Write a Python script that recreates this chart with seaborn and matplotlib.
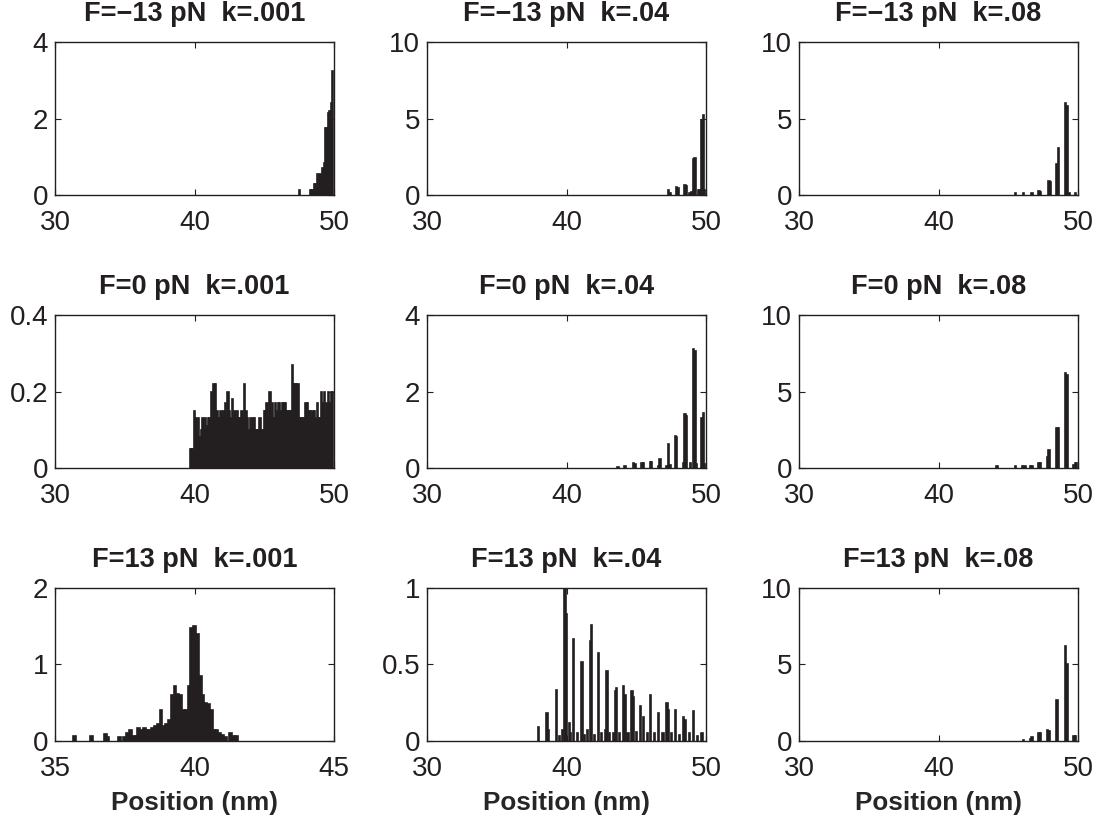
import numpy as np
import pandas as pd
import matplotlib
matplotlib.use('Agg')
import matplotlib.pyplot as plt
import seaborn as sns

INK = '#231f20'

# Panel titles, row by row
titles = [
    'F=\u221213 pN  k=.001', 'F=\u221213 pN  k=.04', 'F=\u221213 pN  k=.08',
    'F=0 pN  k=.001', 'F=0 pN  k=.04', 'F=0 pN  k=.08',
    'F=13 pN  k=.001', 'F=13 pN  k=.04', 'F=13 pN  k=.08',
]

x_ticks = [[30, 40, 50]] * 6 + [[35, 40, 45], [30, 40, 50], [30, 40, 50]]
y_ticks = [[0, 2, 4], [0, 5, 10], [0, 5, 10],
           [0, 0.2, 0.4], [0, 2, 4], [0, 5, 10],
           [0, 1, 2], [0, 0.5, 1], [0, 5, 10]]
y_tick_labels = [['0', '2', '4'], ['0', '5', '10'], ['0', '5', '10'],
                 ['0', '0.2', '0.4'], ['0', '2', '4'], ['0', '5', '10'],
                 ['0', '1', '2'], ['0', '0.5', '1'], ['0', '5', '10']]

# Histogram values (bin centre in nm, height)
pos_m13_001 = [47.5, 48.3, 48.4, 48.5, 48.6, 48.7, 48.8, 48.9, 49.0, 49.1,
               49.2, 49.3, 49.4, 49.5, 49.6, 49.7, 49.8, 49.9]
cnt_m13_001 = [0.12, 0.12, 0.12, 0.12, 0.3, 0.3, 0.55, 0.4, 0.55, 0.45,
               0.7, 0.85, 1.75, 1.75, 2.15, 2.2, 2.4, 3.25]

pos_m13_04 = [47.3, 47.4, 47.9, 48.0, 48.5, 48.6, 48.8, 49.0, 49.1, 49.2,
              49.5, 49.6, 49.7, 49.8, 49.9]
cnt_m13_04 = [0.33, 0.1, 0.5, 0.45, 0.65, 0.6, 0.1, 0.2, 2.35, 2.45,
              0.3, 0.3, 4.9, 5.2, 0.3]

pos_m13_08 = [45.5, 46.1, 46.7, 47.2, 47.3, 47.9, 48.0, 48.5, 48.6, 49.1,
              49.2, 49.4, 49.8]
cnt_m13_08 = [0.1, 0.12, 0.12, 0.25, 0.2, 0.9, 0.85, 2.0, 3.05, 6.0,
              5.8, 0.15, 0.15]

pos_0_001 = [39.7, 39.8, 39.9,
             40.0, 40.1, 40.2, 40.3, 40.4, 40.5, 40.6, 40.7, 40.8, 40.9,
             41.0, 41.1, 41.2, 41.3, 41.4, 41.5, 41.6, 41.7, 41.8, 41.9,
             42.0, 42.1, 42.2, 42.3, 42.4, 42.5, 42.6, 42.7, 42.8, 42.9,
             43.0, 43.1, 43.2, 43.3, 43.4, 43.5, 43.6, 43.7, 43.8, 43.9,
             44.0, 44.1, 44.2, 44.3, 44.4, 44.5, 44.6, 44.7, 44.8, 44.9,
             45.0, 45.1, 45.2, 45.3, 45.4, 45.5, 45.6, 45.7, 45.8, 45.9,
             46.0, 46.1, 46.2, 46.3, 46.4, 46.5, 46.6, 46.7, 46.8, 46.9,
             47.0, 47.1, 47.2, 47.3, 47.4, 47.5, 47.6, 47.7, 47.8, 47.9,
             48.0, 48.1, 48.2, 48.3, 48.4, 48.5, 48.6, 48.7, 48.8, 48.9,
             49.0, 49.1, 49.2, 49.3, 49.4, 49.5, 49.6, 49.7, 49.8, 49.9]
cnt_0_001 = [0.05, 0.05, 0.05,
             0.15, 0.13, 0.08, 0.13, 0.08, 0.10, 0.13, 0.10, 0.13, 0.11,
             0.13, 0.13, 0.20, 0.15, 0.22, 0.22, 0.15, 0.13, 0.13, 0.15,
             0.13, 0.15, 0.17, 0.13, 0.20, 0.15, 0.13, 0.18, 0.13, 0.15,
             0.13, 0.15, 0.13, 0.13, 0.15, 0.13, 0.22, 0.15, 0.13, 0.10,
             0.13, 0.10, 0.13, 0.13, 0.10, 0.10, 0.10, 0.13, 0.10, 0.10,
             0.15, 0.15, 0.17, 0.13, 0.20, 0.15, 0.17, 0.13, 0.17, 0.15,
             0.17, 0.17, 0.15, 0.17, 0.17, 0.17, 0.15, 0.15, 0.15, 0.15,
             0.27, 0.22, 0.22, 0.22, 0.22, 0.13, 0.13, 0.13, 0.13, 0.13,
             0.17, 0.17, 0.15, 0.15, 0.13, 0.15, 0.15, 0.13, 0.17, 0.13,
             0.13, 0.20, 0.17, 0.20, 0.13, 0.17, 0.20, 0.17, 0.20, 0.20]

pos_0_04 = [43.7, 44.2, 44.8, 44.9, 45.4, 45.5, 46.0, 46.1, 46.6, 46.7,
            47.2, 47.3, 47.4, 47.8, 47.9, 48.4, 48.5, 48.6, 48.9, 49.1,
            49.2, 49.3, 49.7, 49.8, 49.9]
cnt_0_04 = [0.03, 0.05, 0.12, 0.1, 0.12, 0.12, 0.17, 0.15, 0.05, 0.23,
            0.05, 0.62, 0.08, 0.85, 0.8, 0.13, 1.4, 1.35, 0.12, 3.1,
            3.05, 0.1, 1.3, 1.45, 0.1]

pos_0_08 = [44.2, 45.5, 46.0, 46.2, 46.6, 46.7, 47.2, 47.3, 47.8, 47.9,
            48.5, 48.6, 49.1, 49.2, 49.7, 49.8, 49.9]
cnt_0_08 = [0.12, 0.1, 0.12, 0.12, 0.15, 0.15, 0.3, 0.3, 0.7, 1.2,
            2.6, 2.6, 6.2, 6.1, 0.2, 0.3, 0.3]

pos_13_001 = [35.7, 36.3, 36.8, 36.9, 37.3, 37.5, 37.6, 37.7, 37.8, 37.9,
              38.0, 38.1, 38.2, 38.3, 38.4, 38.5, 38.6, 38.7, 38.8, 38.9,
              39.0, 39.1, 39.2, 39.3, 39.4, 39.5, 39.6, 39.7, 39.8, 39.9,
              40.0, 40.1, 40.2, 40.3, 40.4, 40.5, 40.6, 40.7, 40.8, 40.9,
              41.0, 41.1, 41.3, 41.4, 41.5]
cnt_13_001 = [0.07, 0.07, 0.09, 0.05, 0.05, 0.05, 0.1, 0.15, 0.07, 0.07,
              0.17, 0.15, 0.17, 0.15, 0.15, 0.17, 0.2, 0.22, 0.4, 0.2,
              0.22, 0.27, 0.6, 0.72, 0.62, 0.6, 0.4, 0.4, 0.72, 1.48,
              1.5, 1.4, 0.85, 0.6, 0.5, 0.48, 0.4, 0.15, 0.15, 0.1,
              0.08, 0.05, 0.1, 0.07, 0.07]

pos_13_04 = [38.0, 38.6, 38.7, 39.3, 39.5, 39.7, 39.9, 40.0, 40.2, 40.3,
             40.5, 40.8, 41.1, 41.3, 41.5, 41.7, 41.8, 42.0, 42.3, 42.5,
             42.8, 42.9, 43.1, 43.4, 43.5, 43.6, 43.8, 44.1, 44.2, 44.4,
             44.7, 44.8, 45.0, 45.3, 45.5, 45.8, 46.0, 46.3, 46.6, 46.9,
             47.2, 47.3, 47.5, 47.8, 48.1, 48.4, 48.5, 48.8, 49.1, 49.4,
             49.7]
cnt_13_04 = [0.09, 0.18, 0.07, 0.335, 0.03, 0.07, 1.0, 0.83, 0.12, 0.05,
             0.667, 0.05, 0.516, 0.04, 0.07, 0.654, 0.758, 0.04, 0.577, 0.05,
             0.07, 0.456, 0.05, 0.05, 0.33, 0.345, 0.05, 0.36, 0.30, 0.05,
             0.33, 0.29, 0.06, 0.23, 0.16, 0.05, 0.30, 0.05, 0.18, 0.05,
             0.25, 0.20, 0.05, 0.20, 0.04, 0.155, 0.14, 0.05, 0.195, 0.03,
             0.05]

pos_13_08 = [46.1, 46.6, 46.7, 47.2, 47.3, 47.8, 47.9, 48.5, 49.1, 49.2,
             49.7, 49.8]
cnt_13_08 = [0.08, 0.1, 0.25, 0.55, 0.5, 0.7, 0.65, 2.7, 6.2, 5.0,
             0.3, 0.3]

panels = [
    (pos_m13_001, cnt_m13_001), (pos_m13_04, cnt_m13_04), (pos_m13_08, cnt_m13_08),
    (pos_0_001, cnt_0_001), (pos_0_04, cnt_0_04), (pos_0_08, cnt_0_08),
    (pos_13_001, cnt_13_001), (pos_13_04, cnt_13_04), (pos_13_08, cnt_13_08),
]

sns.set_style('ticks')
plt.rcParams['font.family'] = ['Liberation Sans', 'DejaVu Sans']
plt.rcParams['text.color'] = INK
plt.rcParams['axes.edgecolor'] = INK
plt.rcParams['xtick.color'] = INK
plt.rcParams['ytick.color'] = INK
plt.rcParams['axes.linewidth'] = 1.0

fig = plt.figure(figsize=(10.99, 8.25), dpi=100)

# axes boxes (fractions of figure)
lefts = [0.050, 0.3885, 0.727]
bottoms = [0.7636, 0.4327, 0.1018]
width, height = 0.254, 0.1855

for i, (pos, cnt) in enumerate(panels):
    r, c = divmod(i, 3)
    ax = fig.add_axes([lefts[c], bottoms[r], width, height])
    df = pd.DataFrame({'pos': pos, 'cnt': cnt})
    sns.barplot(data=df, x='pos', y='cnt', native_scale=True, color=INK,
                saturation=1, width=1.0, errorbar=None, edgecolor=INK,
                linewidth=1.2, ax=ax)
    xt = x_ticks[i]
    ax.set_xlim(xt[0], xt[-1])
    ax.set_xticks(xt)
    ax.set_xticklabels([str(v) for v in xt])
    ax.set_ylim(y_ticks[i][0], y_ticks[i][-1])
    ax.set_yticks(y_ticks[i])
    ax.set_yticklabels(y_tick_labels[i])
    ax.tick_params(direction='in', top=True, right=True, length=4,
                   width=0.8, labelsize=20)
    ax.tick_params(axis='x', pad=11)
    ax.tick_params(axis='y', pad=5)
    for s in ax.spines.values():
        s.set_visible(True)
    ax.set_title(titles[i], fontsize=19.5, fontweight='bold', pad=15)
    ax.set_ylabel('')
    if r == 2:
        ax.set_xlabel('Position (nm)', fontsize=18.8, fontweight='bold', labelpad=6)
    else:
        ax.set_xlabel('')

fig.savefig('out.png', dpi=100)
